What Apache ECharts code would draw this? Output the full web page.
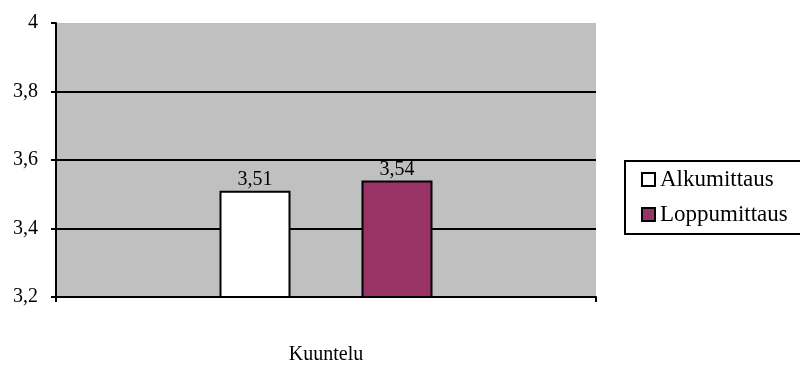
<!DOCTYPE html>
<html>
<head>
<meta charset="utf-8">
<script src="https://cdn.jsdelivr.net/npm/echarts@6/dist/echarts.min.js"></script>
<style>
  html, body { margin: 0; padding: 0; background: #fff; }
  #chart { width: 800px; height: 365px; }
</style>
</head>
<body>
<div id="chart"></div>
<script>
// Category and measurements (scale 1–4)
const categories = ['Kuuntelu'];
const alkumittaus = [3.51];
const loppumittaus = [3.54];
const seriesNames = ['Alkumittaus', 'Loppumittaus'];

const FONT = '"Liberation Serif", "DejaVu Serif", serif';
const fmt = v => String(v).replace('.', ',');

const chart = echarts.init(document.getElementById('chart'), null, { renderer: 'canvas' });

chart.setOption({
  animation: false,
  backgroundColor: '#ffffff',
  grid: {
    left: 56, top: 23, right: 204, bottom: 66,
    show: true, backgroundColor: '#c0c0c0', borderWidth: 0
  },
  legend: {
    orient: 'vertical',
    left: 625, top: 161,
    padding: [7, 14, 8, 16],
    itemGap: 12,
    itemWidth: 13, itemHeight: 13,
    borderColor: '#000', borderWidth: 2,
    backgroundColor: '#fff',
    icon: 'rect',
    itemStyle: { borderColor: '#000', borderWidth: 2 },
    textStyle: { fontFamily: FONT, fontSize: 23, color: '#000', lineHeight: 22 },
    data: seriesNames
  },
  xAxis: {
    type: 'category',
    data: categories,
    axisLine: { show: true, lineStyle: { color: '#000', width: 2 } },
    axisTick: { show: true, length: 5, lineStyle: { color: '#000', width: 2 } },
    axisLabel: { fontFamily: FONT, fontSize: 20, color: '#000', margin: 48 }
  },
  yAxis: {
    type: 'value',
    min: 3.2, max: 4, interval: 0.2,
    axisLine: { show: true, lineStyle: { color: '#000', width: 2 } },
    axisTick: { show: true, length: 5, lineStyle: { color: '#000', width: 2 } },
    // no gridline along the top edge of the plot
    splitLine: { show: true, lineStyle: { color: ['#000', '#000', '#000', '#000', 'rgba(0,0,0,0)'], width: 2 } },
    axisLabel: {
      fontFamily: FONT, fontSize: 20, color: '#000', margin: 18,
      formatter: v => fmt(Math.round(v * 10) / 10)
    }
  },
  series: [
    {
      name: seriesNames[0], type: 'bar', data: alkumittaus,
      barWidth: 71, barGap: '100%',
      itemStyle: { color: '#ffffff', borderColor: '#000', borderWidth: 2 },
      label: { show: true, position: 'top', distance: 1, fontFamily: FONT, fontSize: 20, color: '#000', formatter: p => fmt(p.value) }
    },
    {
      name: seriesNames[1], type: 'bar', data: loppumittaus,
      barWidth: 71,
      itemStyle: { color: '#993366', borderColor: '#000', borderWidth: 2 },
      label: { show: true, position: 'top', distance: 1, fontFamily: FONT, fontSize: 20, color: '#000', formatter: p => fmt(p.value) }
    }
  ]
});
</script>
</body>
</html>
